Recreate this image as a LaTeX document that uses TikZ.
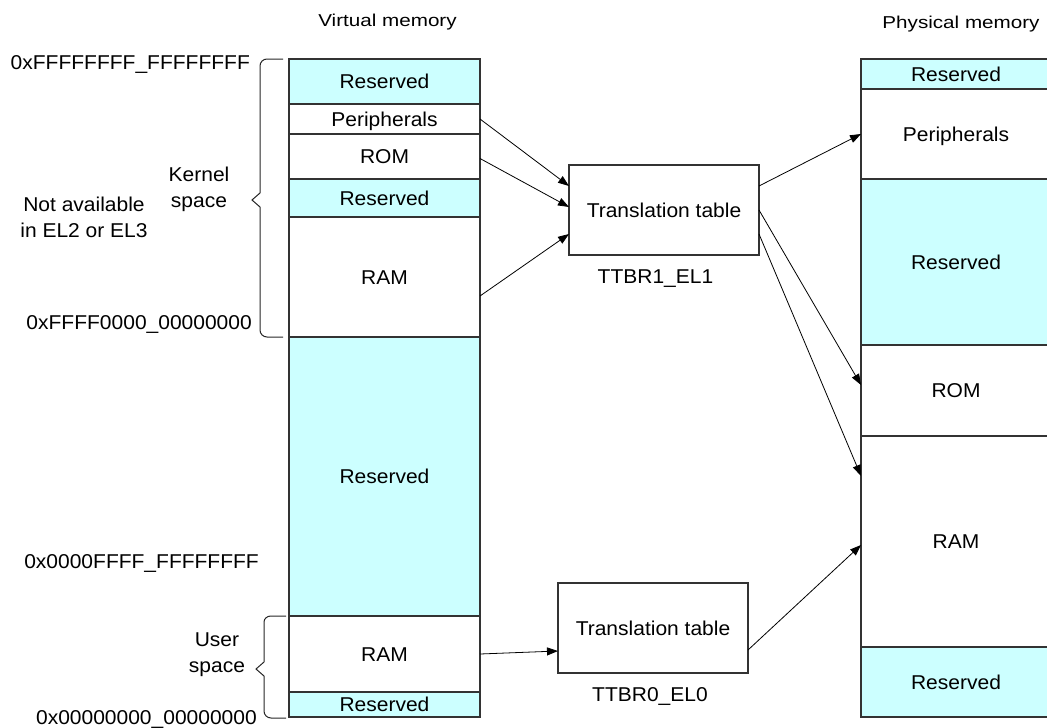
\documentclass[tikz,border=0pt]{standalone}
\usepackage{fontspec}
\setmainfont[FakeStretch=1.05]{Liberation Sans}
\newfontfamily\hdrfont[FakeStretch=1.2]{Liberation Sans}
\usetikzlibrary{arrows.meta,calc}
\definecolor{resv}{HTML}{CCFFFF}
\definecolor{edge}{HTML}{333333}
\begin{document}
\begin{tikzpicture}[x=1pt,y=-1pt,
  font=\fontsize{20}{25.7}\selectfont,
  seg/.style={draw=edge, line width=1.3pt, inner sep=0pt, outer sep=0pt, minimum width=191pt, text height=14.3pt, text depth=0pt},
  res/.style={seg, fill=resv},
  ram/.style={seg, fill=white},
  pseg/.style={minimum width=190pt},
  ttab/.style={draw=edge, line width=1.3pt, fill=white, minimum width=190pt, minimum height=90pt, inner sep=0pt, outer sep=0pt, text height=14.3pt, text depth=0pt},
  lbl/.style={inner sep=0pt},
  hdr/.style={inner sep=0pt, anchor=base, font={\hdrfont\fontsize{17.2}{20}\selectfont}},
  conn/.style={-{Triangle[length=11pt,width=8pt]}, line width=0.8pt},
  brace/.style={line width=1pt, draw=black!85}
]
\useasboundingbox (0,0) rectangle (1047,728);
\clip (0,0) rectangle (1047,728);

% headers
\node[hdr] (hv) at (387.5,27) {Virtual memory};
\node[hdr] (hp) at (961,28) {Physical memory};

% virtual memory column
\node[res, minimum height=45pt] (vres1) at (384.5,81.5) {Reserved};
\node[ram, minimum height=30pt] (vper) at (384.5,119) {Peripherals};
\node[ram, minimum height=45pt] (vrom) at (384.5,156.5) {ROM};
\node[res, minimum height=38pt] (vres2) at (384.5,198) {Reserved};
\node[ram, minimum height=120pt] (vram) at (384.5,277) {RAM};
\node[res, minimum height=279pt] (vres3) at (384.5,476.5) {Reserved};
\node[ram, minimum height=76pt] (uram) at (384.5,654) {RAM};
\node[res, minimum height=25pt] (ures) at (384.5,704.5) {Reserved};

% physical memory column
\node[res, pseg, minimum height=30pt] (pres1) at (956,74) {Reserved};
\node[ram, pseg, minimum height=90pt] (pper) at (956,134) {Peripherals};
\node[res, pseg, minimum height=166pt] (pres2) at (956,262) {Reserved};
\node[ram, pseg, minimum height=91pt] (prom) at (956,390.5) {ROM};
\node[ram, pseg, minimum height=211pt] (pram) at (956,541.5) {RAM};
\node[res, pseg, minimum height=70pt] (pres3) at (956,682) {Reserved};

% translation tables
\node[ttab] (t1) at (664,210) {Translation table};
\node[ttab] (t2) at (653,628) {Translation table};
\node[lbl, anchor=base] (l1) at (655.5,283.5) {TTBR1\_EL1};
\node[lbl, anchor=base] (l0) at (650,701.7) {TTBR0\_EL0};

% address labels
\node[lbl, anchor=base east] (a1) at (250,69) {0xFFFFFFFF\_FFFFFFFF};
\node[lbl, anchor=base east] (a2) at (252,329) {0xFFFF0000\_00000000};
\node[lbl, anchor=base east] (a3) at (259,568) {0x0000FFFF\_FFFFFFFF};
\node[lbl, anchor=base east] (a4) at (257,724) {0x00000000\_00000000};

% space labels
\node[lbl, anchor=north, align=center] (ks) at (199,167) {Kernel\\space};
\node[lbl, anchor=north, align=center] (na) at (84,197) {Not available\\in EL2 or EL3};
\node[lbl, anchor=north, align=center] (us) at (217,633) {User\\space};

% braces
\draw[brace] (283,59) -- (267,59) to[out=180,in=90] (260,66) -- (260,193) -- (252,200) -- (260,207) -- (260,330) to[out=-90,in=180] (267,337) -- (283,337);
\draw[brace] (286,616) -- (271,616) to[out=180,in=90] (264,622) -- (264,662) -- (256,669) -- (264,676) -- (264,711) to[out=-90,in=180] (271,718) -- (286,718);

% connectors
\draw[conn] (vper.east) -- ([yshift=24pt]t1.west);
\draw[conn] ([yshift=-2pt]vrom.east) -- ([yshift=3pt]t1.west);
\draw[conn] ([yshift=-19pt]vram.east) -- ([yshift=-24pt]t1.west);
\draw[conn] ([yshift=24pt]t1.east) -- (pper.west);
\draw[conn] (t1.east) -- ([yshift=5.5pt]prom.west);
\draw[conn] ([yshift=-24pt]t1.east) -- ([yshift=65.5pt]pram.west);
\draw[conn] (uram.east) -- ([yshift=-23pt]t2.west);
\draw[conn] ([yshift=-22pt]t2.east) -- ([yshift=-3.5pt]pram.west);
\end{tikzpicture}
\end{document}
